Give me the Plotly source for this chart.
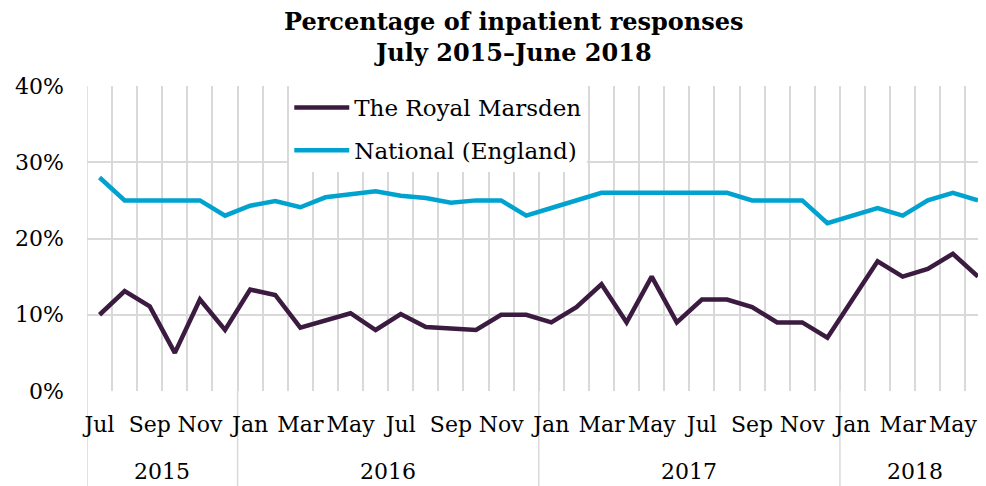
import plotly.graph_objects as go

months = ["Jul", "Aug", "Sep", "Oct", "Nov", "Dec",
          "Jan", "Feb", "Mar", "Apr", "May", "Jun", "Jul", "Aug", "Sep", "Oct", "Nov", "Dec",
          "Jan", "Feb", "Mar", "Apr", "May", "Jun", "Jul", "Aug", "Sep", "Oct", "Nov", "Dec",
          "Jan", "Feb", "Mar", "Apr", "May", "Jun"]
years = ["2015", "2016", "2017", "2018"]
year_counts = [6, 12, 12, 6]

royal_marsden = [10, 13.1, 11.1, 5, 12, 8,
                 13.3, 12.6, 8.3, 9.3, 10.2, 8, 10.1, 8.4, 8.2, 8, 10, 10,
                 9, 11, 14, 9, 15, 9, 12, 12, 11, 9, 9, 7,
                 12, 17, 15, 16, 18, 15]
national = [28, 25, 25, 25, 25, 23,
            24.3, 24.9, 24.1, 25.4, 25.8, 26.2, 25.6, 25.3, 24.7, 25, 25, 23,
            24, 25, 26, 26, 26, 26, 26, 26, 25, 25, 25, 22,
            23, 24, 23, 25, 26, 25]

x = list(range(len(months)))
FONT = "DejaVu Serif"
GRID = "#d9d9d9"

fig = go.Figure()
fig.add_trace(go.Scatter(x=x, y=[v / 100 for v in royal_marsden], mode="lines",
                         name="The Royal Marsden", legendgroup="a",
                         line=dict(color="#3b1b40", width=4.5)))
fig.add_trace(go.Scatter(x=x, y=[v / 100 for v in national], mode="lines",
                         name="National (England)", legendgroup="b",
                         line=dict(color="#00a3cf", width=4.5)))

tickvals = x[::2]
ticktext = months[::2]

# page body adds an 8px offset, so the figure is drawn 8px smaller
fig.update_layout(
    width=978, height=478,
    margin=dict(l=79, r=0, t=78, b=95, autoexpand=False),
    paper_bgcolor="white", plot_bgcolor="white",
    font=dict(family=FONT, size=22, color="#000000"),
    showlegend=True,
    legend=dict(x=0.225, y=1.0, xanchor="left", yanchor="top",
                bgcolor="white", borderwidth=0,
                font=dict(family=FONT, size=23, color="#000000"),
                tracegroupgap=10, itemwidth=55),
    xaxis=dict(range=[-0.5, 35.32], tickmode="array", tickvals=tickvals, ticktext=ticktext,
               tickangle=0, showgrid=False, zeroline=False, showline=False, automargin=False,
               ticks="", ticklabelstandoff=18,
               minor=dict(tick0=0.5, dtick=1, showgrid=True, gridcolor=GRID, gridwidth=1.5, ticks="")),
    yaxis=dict(range=[0, 0.4], tickvals=[0, 0.1, 0.2, 0.3, 0.4], tickformat=".0%",
               showgrid=True, gridcolor=GRID, gridwidth=1.5, zeroline=False, showline=False,
               automargin=False, ticks="", ticklabelstandoff=22),
)

# title as an annotation
fig.add_annotation(text="<b>Percentage of inpatient responses<br>July 2015\u2013June 2018</b>",
                   xref="paper", x=(514 - 87) / 899, yref="paper", y=1.162,
                   xanchor="center", yanchor="middle", showarrow=False,
                   font=dict(family=FONT, size=24, color="#000000"))

# left border and year separators extending below the axis
boundaries = [-0.5]
acc = -0.5
for c in year_counts[:-1]:
    acc += c
    boundaries.append(acc)
for i, b in enumerate(boundaries):
    y1 = 1 if i == 0 else 0
    fig.add_shape(type="line", xref="x", yref="paper", x0=b, x1=b, y0=-0.32, y1=y1,
                  line=dict(color=GRID, width=1.5), layer="below")

# year labels centred in their group
start = 0
for yr, c in zip(years, year_counts):
    centre = start + (c - 1) / 2
    fig.add_annotation(x=centre, xref="x", y=-0.265, yref="paper", text=yr,
                       showarrow=False, yanchor="middle",
                       font=dict(family=FONT, size=22, color="#000000"))
    start += c

fig.write_html("out.html")
